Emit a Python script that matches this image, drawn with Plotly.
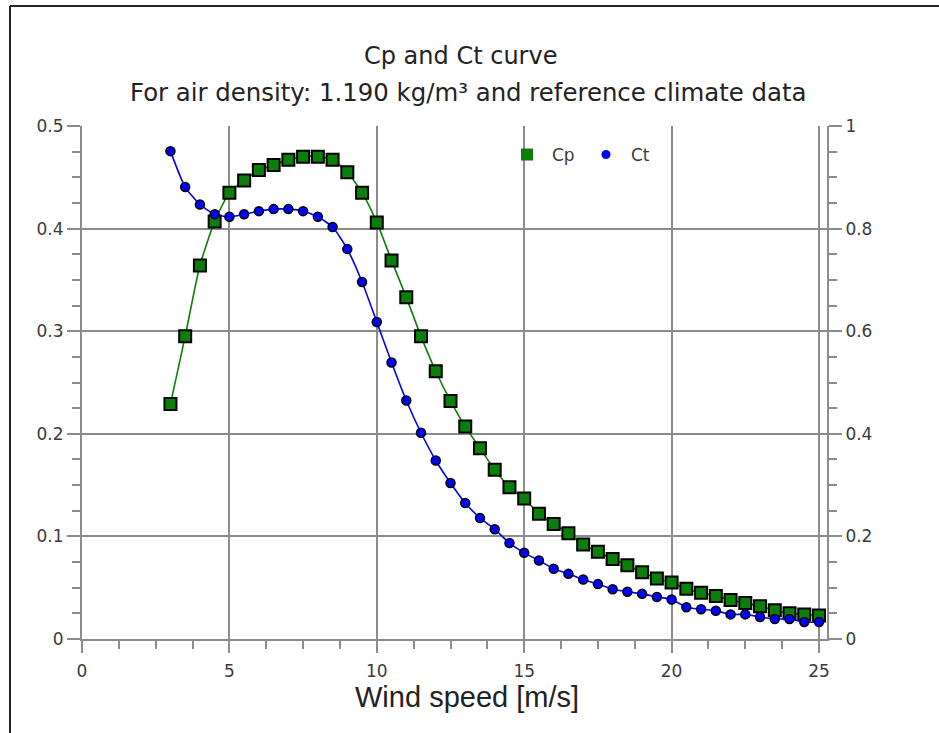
import plotly.graph_objects as go

wind_speed = [3, 3.5, 4, 4.5, 5, 5.5, 6, 6.5, 7, 7.5, 8, 8.5, 9, 9.5, 10, 10.5, 11, 11.5,
              12, 12.5, 13, 13.5, 14, 14.5, 15, 15.5, 16, 16.5, 17, 17.5, 18, 18.5, 19,
              19.5, 20, 20.5, 21, 21.5, 22, 22.5, 23, 23.5, 24, 24.5, 25]
cp_values = [0.229, 0.295, 0.364, 0.407, 0.435, 0.447, 0.457, 0.462, 0.467, 0.470, 0.470,
             0.467, 0.455, 0.435, 0.406, 0.369, 0.333, 0.295, 0.261, 0.232, 0.207, 0.186,
             0.165, 0.148, 0.137, 0.122, 0.112, 0.103, 0.092, 0.085, 0.078, 0.072, 0.065,
             0.059, 0.055, 0.049, 0.045, 0.042, 0.038, 0.035, 0.032, 0.028, 0.025, 0.024, 0.023]
ct_values = [0.951, 0.881, 0.847, 0.828, 0.823, 0.828, 0.834, 0.838, 0.838, 0.834, 0.823,
             0.803, 0.760, 0.696, 0.618, 0.539, 0.465, 0.402, 0.348, 0.304, 0.265, 0.236,
             0.214, 0.187, 0.168, 0.153, 0.137, 0.127, 0.116, 0.107, 0.097, 0.092, 0.088,
             0.082, 0.077, 0.062, 0.058, 0.055, 0.048, 0.048, 0.043, 0.039, 0.039, 0.033, 0.033]

title_line1 = "Cp and Ct curve"
title_line2 = "For air density: 1.190 kg/m³ and reference climate data"
x_title = "Wind speed [m/s]"

GREEN = "#0a800a"
BLUE = "#0000ff"
GRID = "#8c8c8c"
TXT = "#3a3a3a"
TICKFONT = dict(family="DejaVu Sans", size=17, color=TXT)

W, H = 939, 733
L, R, T, B = 82, 112, 126, 94
pw, ph = W - L - R, H - T - B

fig = go.Figure()

fig.add_trace(go.Scatter(
    x=wind_speed, y=cp_values, mode="lines+markers", name="Cp", showlegend=False,
    line=dict(color=GREEN, width=1.6, shape="spline", smoothing=0.6),
    marker=dict(symbol="square", size=12, color=GREEN, line=dict(color="black", width=2)),
    yaxis="y"))
fig.add_trace(go.Scatter(
    x=wind_speed, y=ct_values, mode="lines+markers", name="Ct", showlegend=False,
    line=dict(color=BLUE, width=1.6, shape="spline", smoothing=0.6),
    marker=dict(symbol="circle", size=9, color=BLUE, line=dict(color="black", width=1.5)),
    yaxis="y2"))
# legend entries
fig.add_trace(go.Scatter(x=[None], y=[None], mode="markers", name="Cp",
                         marker=dict(symbol="square", size=12, color=GREEN), yaxis="y"))
fig.add_trace(go.Scatter(x=[None], y=[None], mode="markers", name="Ct",
                         marker=dict(symbol="circle", size=9, color=BLUE), yaxis="y2"))

x_max = 25 + 8 / 29.48

fig.update_layout(
    width=W, height=H,
    margin=dict(l=L, r=R, t=T, b=B, pad=0),
    paper_bgcolor="white", plot_bgcolor="white",
    font=dict(family="DejaVu Sans", color=TXT),
    xaxis=dict(range=[0, x_max], dtick=5, tick0=0, showgrid=True, gridcolor=GRID, gridwidth=2,
               zeroline=False, showline=True, linecolor=GRID, linewidth=2,
               ticks="outside", ticklen=12, tickwidth=2, tickcolor=GRID,
               minor=dict(dtick=1.25, tick0=0, ticks="outside", ticklen=8, tickwidth=2,
                          tickcolor=GRID, showgrid=False),
               tickfont=TICKFONT, ticklabelstandoff=4),
    yaxis=dict(range=[0, 0.5], dtick=0.1, tick0=0, showgrid=False, zeroline=False,
               showline=True, linecolor=GRID, linewidth=2,
               ticks="outside", ticklen=13, tickwidth=2, tickcolor=GRID,
               minor=dict(dtick=0.025, tick0=0, ticks="outside", ticklen=8, tickwidth=2,
                          tickcolor=GRID, showgrid=False),
               tickfont=TICKFONT),
    yaxis2=dict(range=[0, 1], dtick=0.2, tick0=0, overlaying="y", side="right", anchor="x",
                showgrid=False, zeroline=False, showline=True, linecolor=GRID, linewidth=2,
                ticks="outside", ticklen=13, tickwidth=2, tickcolor=GRID,
                minor=dict(dtick=0.05, tick0=0, ticks="outside", ticklen=8, tickwidth=2,
                           tickcolor=GRID, showgrid=False),
                tickfont=TICKFONT),
    yaxis3=dict(range=[0, 0.5], tickvals=[0.1, 0.2, 0.3, 0.4], overlaying="y", side="left",
                anchor="x", showgrid=True, gridcolor=GRID, gridwidth=2, zeroline=False,
                showline=False, ticks="", showticklabels=False),
    legend=dict(orientation="h", x=(502 - L) / pw, xanchor="left",
                y=(639 - 155) / ph, yanchor="middle", bgcolor="rgba(0,0,0,0)",
                font=dict(family="DejaVu Sans", size=17, color=TXT), itemwidth=40,
                entrywidth=24),
    showlegend=True,
)

# dummy trace to activate the grid axis
fig.add_trace(go.Scatter(x=[None], y=[None], yaxis="y3", showlegend=False, hoverinfo="skip"))

fig.add_annotation(text=title_line1, xref="paper", yref="paper",
                   x=(460 - L) / pw, y=(639 - 56) / ph, xanchor="center", yanchor="middle",
                   showarrow=False, font=dict(family="DejaVu Sans", size=24, color="#222"))
fig.add_annotation(text=title_line2, xref="paper", yref="paper",
                   x=(468 - L) / pw, y=(639 - 93) / ph, xanchor="center", yanchor="middle",
                   showarrow=False, font=dict(family="DejaVu Sans", size=24.4, color="#222"))
fig.add_annotation(text=x_title, xref="paper", yref="paper",
                   x=(467 - L) / pw, y=(639 - 697) / ph, xanchor="center", yanchor="middle",
                   showarrow=False, font=dict(family="Liberation Sans", size=29, color="#222"))

# outer frame (top and left edges)
fx0 = (10 - L) / pw
fy0 = (639 - 6) / ph
fig.add_shape(type="line", xref="paper", yref="paper", x0=fx0, y0=fy0, x1=(W + 5 - L) / pw, y1=fy0,
              line=dict(color="#222", width=2))
fig.add_shape(type="line", xref="paper", yref="paper", x0=fx0, y0=fy0, x1=fx0, y1=(639 - H - 5) / ph,
              line=dict(color="#222", width=2))

fig.write_html("out.html")
